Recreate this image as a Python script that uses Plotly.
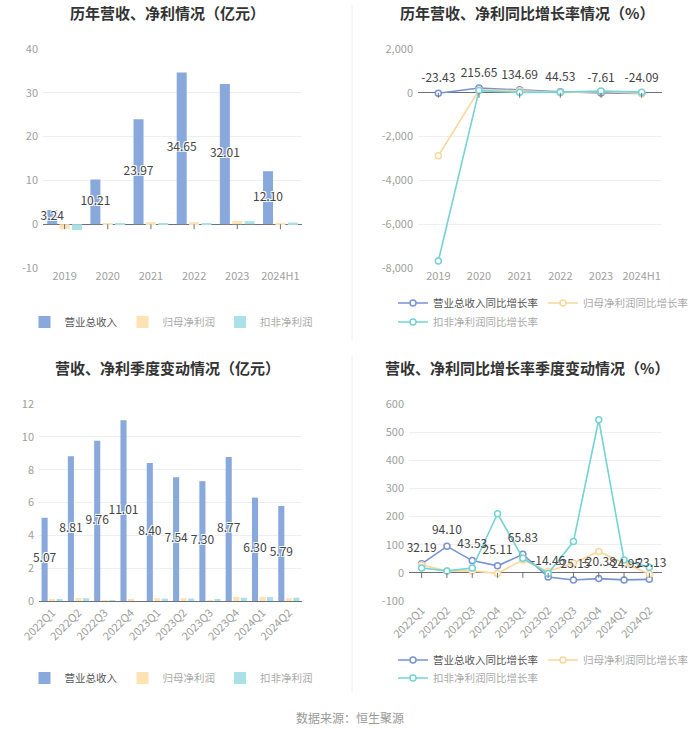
import plotly.graph_objects as go

# ---------------- data ----------------
years = ["2019", "2020", "2021", "2022", "2023", "2024H1"]
rev_y = [3.24, 10.21, 23.97, 34.65, 32.01, 12.10]
np_y = [-1.15, 0.05, 0.45, 0.45, 0.72, 0.30]
ded_y = [-1.35, 0.08, 0.18, 0.28, 0.68, 0.38]

rev_g_y = [-23.43, 215.65, 134.69, 44.53, -7.61, -24.09]
np_g_y = [-2880, 120, 90, 10, 60, -20]
ded_g_y = [-7680, 100, 20, 30, 85, 30]

quarters = ["2022Q1", "2022Q2", "2022Q3", "2022Q4", "2023Q1",
            "2023Q2", "2023Q3", "2023Q4", "2024Q1", "2024Q2"]
rev_q = [5.07, 8.81, 9.76, 11.01, 8.40, 7.54, 7.30, 8.77, 6.30, 5.79]
np_q = [0.08, 0.18, 0.02, 0.08, 0.17, 0.17, 0.02, 0.25, 0.25, 0.17]
ded_q = [0.08, 0.17, 0.01, 0.0, 0.15, 0.15, 0.08, 0.20, 0.24, 0.20]

rev_g_q = [32.19, 94.10, 43.53, 25.11, 65.83, -14.46, -25.15, -20.38, -24.95, -23.13]
np_g_q = [28, 7, 7, -2, 46, 5, 34, 76, 34, -4]
ded_g_q = [17, 7, 17, 210, 52, -2, 111, 544, 46, 20]

tl_ticks = [-10, 0, 10, 20, 30, 40]
tr_ticks = [-8000, -6000, -4000, -2000, 0, 2000]
bl_ticks = [0, 2, 4, 6, 8, 10, 12]
br_ticks = [-100, 0, 100, 200, 300, 400, 500, 600]

titles = ["历年营收、净利情况（亿元）", "历年营收、净利同比增长率情况（%）",
          "营收、净利季度变动情况（亿元）", "营收、净利同比增长率季度变动情况（%）"]
bar_names = ["营业总收入", "归母净利润", "扣非净利润"]
line_names = ["营业总收入同比增长率", "归母净利润同比增长率", "扣非净利润同比增长率"]
source = "数据来源：恒生聚源"

# ---------------- style ----------------
W, H = 700, 734
FONT = "Noto Sans CJK SC, Noto Sans, sans-serif"
C_REV, C_NP, C_DED = "#89a9dc", "#fde2b3", "#a9e1e6"
L_REV, L_NP, L_DED = "#7893d2", "#fbd69d", "#74d3d4"
AXIS = "#6e7079"
GRID = "#eceef1"
TICKC = "#a0a0a0"
LABC = "#444444"
DIM = "#aaaaaa"
BARGAP, GROUPGAP = 0.14, 0.19
SHADOW = "1px 1px 0 #fff, -1px -1px 0 #fff, 1px -1px 0 #fff, -1px 1px 0 #fff"


def px_x(p):
    return p / W


def px_y(p):
    return 1 - p / H


def dim(t):
    return f'<span style="color:{DIM}">{t}</span>'


fig = go.Figure()
off = (1 - BARGAP) / 3


def add_bars(cats, rev, npv, ded, xa, ya, leg):
    idx = list(range(len(cats)))
    for vals, nm, col in [(rev, bar_names[0], C_REV), (npv, dim(bar_names[1]), C_NP),
                          (ded, dim(bar_names[2]), C_DED)]:
        fig.add_bar(x=idx, y=vals, name=nm, marker=dict(color=col, line=dict(width=0)),
                    xaxis=xa, yaxis=ya, legend=leg, hoverinfo="y")
    fig.add_scatter(x=[i - off for i in idx], y=[v / 2 for v in rev], mode="text",
                    text=[f"{v:.2f}" for v in rev],
                    textfont=dict(size=12, color=LABC, shadow=SHADOW),
                    showlegend=False, xaxis=xa, yaxis=ya, cliponaxis=False, hoverinfo="skip")


def add_lines(cats, rev, npv, ded, xa, ya, leg1, leg2, gap):
    idx = list(range(len(cats)))
    specs = [(rev, line_names[0], L_REV, leg1, 1), (npv, dim(line_names[1]), L_NP, leg1, 2),
             (ded, dim(line_names[2]), L_DED, leg2, 3)]
    for vals, nm, col, lg, rk in specs:
        fig.add_scatter(x=idx, y=vals, mode="lines+markers", name=nm,
                        line=dict(color=col, width=1.6),
                        marker=dict(symbol="circle", size=6, color="white",
                                    line=dict(color=col, width=1.5)),
                        xaxis=xa, yaxis=ya, legend=lg, legendrank=rk, cliponaxis=False)
    # invisible spacer markers so the value labels sit a little above the points
    fig.add_scatter(x=idx, y=rev, mode="markers+text", text=[f"{v:.2f}" for v in rev],
                    marker=dict(size=gap, color="rgba(0,0,0,0)", line=dict(width=0)),
                    textposition="top center", textfont=dict(size=12, color=LABC),
                    showlegend=False, xaxis=xa, yaxis=ya, cliponaxis=False, hoverinfo="skip")


add_bars(years, rev_y, np_y, ded_y, "x", "y", "legend")
add_lines(years, rev_g_y, np_g_y, ded_g_y, "x2", "y2", "legend2", "legend3", 11)
add_bars(quarters, rev_q, np_q, ded_q, "x3", "y3", "legend4")
add_lines(quarters, rev_g_q, np_g_q, ded_g_q, "x4", "y4", "legend5", "legend6", 13)

panels = [
    dict(n="", cats=years, xd=[43, 302], yd=[49, 268], ticks=tl_ticks, angle=0, line=False),
    dict(n="2", cats=years, xd=[418, 662], yd=[49, 268], ticks=tr_ticks, angle=0, line=False),
    dict(n="3", cats=quarters, xd=[39, 302], yd=[404, 601], ticks=bl_ticks, angle=-45, line=True),
    dict(n="4", cats=quarters, xd=[409, 662], yd=[404, 601], ticks=br_ticks, angle=-45, line=False),
]

layout = {}
shapes = []
for p in panels:
    n = p["n"]
    idx = list(range(len(p["cats"])))
    layout["xaxis" + n] = dict(
        domain=[px_x(p["xd"][0]), px_x(p["xd"][1])], anchor="y" + n,
        range=[-0.5, len(idx) - 0.5], tickvals=idx, ticktext=p["cats"],
        tickangle=p["angle"], showgrid=False, zeroline=False, ticks="",
        showline=p["line"], linecolor=AXIS, linewidth=1,
        tickfont=dict(size=11, color=TICKC), fixedrange=True,
    )
    layout["yaxis" + n] = dict(
        domain=[px_y(p["yd"][1]), px_y(p["yd"][0])], anchor="x" + n,
        range=[p["ticks"][0], p["ticks"][-1]], tickvals=p["ticks"],
        ticktext=[f"{v:,}" for v in p["ticks"]],
        showgrid=True, gridcolor=GRID, gridwidth=1,
        zeroline=not p["line"], zerolinecolor=AXIS, zerolinewidth=1,
        tickfont=dict(size=11, color=TICKC), ticks="", ticklabelstandoff=4, fixedrange=True,
    )
    xref = "x" + n
    yref = "y" + n
    for i in idx:
        shapes.append(dict(type="line", xref=xref, yref=yref, x0=i, x1=i,
                           ysizemode="pixel", yanchor=0, y0=0, y1=-5,
                           line=dict(color=AXIS, width=1), layer="above"))

# separators
shapes.append(dict(type="line", xref="paper", yref="paper", x0=px_x(352), x1=px_x(352),
                   y0=px_y(5), y1=px_y(340), line=dict(color="#eeeeee", width=1)))
shapes.append(dict(type="line", xref="paper", yref="paper", x0=px_x(352), x1=px_x(352),
                   y0=px_y(356), y1=px_y(692), line=dict(color="#eeeeee", width=1)))

annotations = []
for t, (cx, cy) in zip(titles, [(167, 12), (527, 12), (167, 367), (527, 367)]):
    annotations.append(dict(text=f"<b>{t}</b>", x=px_x(cx), y=px_y(cy), xref="paper", yref="paper",
                            xanchor="center", yanchor="middle", showarrow=False,
                            font=dict(size=15, color="#333333")))
annotations.append(dict(text=source, x=0.5, y=px_y(717), xref="paper", yref="paper",
                        xanchor="center", yanchor="middle", showarrow=False,
                        font=dict(size=12, color="#999999")))

leg_common = dict(orientation="h", bgcolor="rgba(0,0,0,0)", font=dict(size=10.5, color="#555555"),
                  itemwidth=30, yanchor="middle", tracegroupgap=0)
layout["legend"] = dict(leg_common, x=px_x(171), xanchor="center", y=px_y(322))
layout["legend2"] = dict(leg_common, x=px_x(393), xanchor="left", y=px_y(303))
layout["legend3"] = dict(leg_common, x=px_x(393), xanchor="left", y=px_y(322))
layout["legend4"] = dict(leg_common, x=px_x(171), xanchor="center", y=px_y(678))
layout["legend5"] = dict(leg_common, x=px_x(393), xanchor="left", y=px_y(660))
layout["legend6"] = dict(leg_common, x=px_x(393), xanchor="left", y=px_y(678))

fig.update_layout(
    width=W, height=H,
    margin=dict(l=0, r=0, t=0, b=0, autoexpand=False),
    paper_bgcolor="white", plot_bgcolor="white",
    font=dict(family=FONT, color="#333333"),
    barmode="group", bargap=BARGAP, bargroupgap=GROUPGAP,
    shapes=shapes, annotations=annotations,
    **layout,
)

fig.write_html("out.html")
